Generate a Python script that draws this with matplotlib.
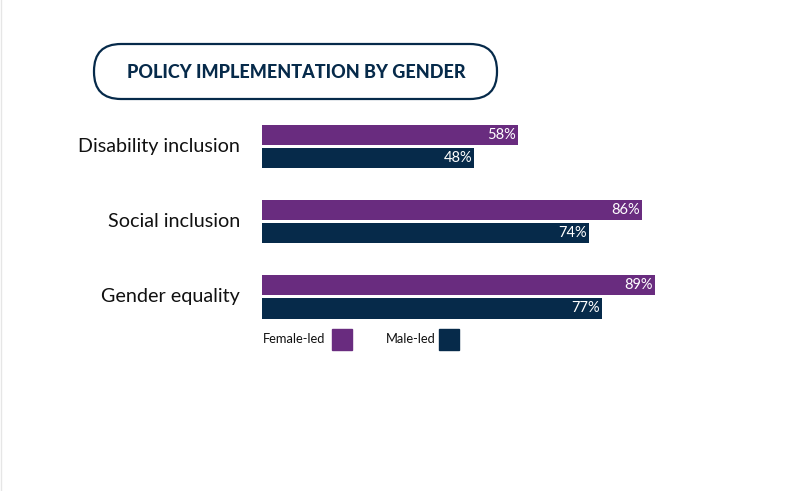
import matplotlib.pyplot as plt
from matplotlib.patches import FancyBboxPatch, Rectangle
from matplotlib.lines import Line2D

categories = ['Disability inclusion', 'Social inclusion', 'Gender equality']
female_led = [58, 86, 89]
male_led = [48, 74, 77]
series_names = ['Female-led', 'Male-led']

PURPLE = '#692C7F'
NAVY = '#062A4A'
W, H = 785, 491

plt.rcParams['font.family'] = ['Lato', 'DejaVu Sans']

fig = plt.figure(figsize=(W / 100, H / 100), dpi=100)
fig.patch.set_facecolor('white')


def fx(px):
    return px / W


def fy(py):
    return 1 - py / H


# axes: 0..100% spans x=262..704 px, groups centred ~75 px apart
ax = fig.add_axes([fx(262), fy(334.6), fx(442), (334.6 - 108.9) / H])
ax.set_xlim(0, 100)
ax.set_ylim(len(categories) - 0.5, -0.5)
ax.axis('off')

bar_h = 0.266
off = 0.153
pos = list(range(len(categories)))
ax.barh([p - off for p in pos], female_led, height=bar_h, color=PURPLE)
ax.barh([p + off for p in pos], male_led, height=bar_h, color=NAVY)

for p, v in zip(pos, female_led):
    ax.text(v - 0.5, p - off, f'{v}%', color='white', fontsize=10.5,
            ha='right', va='center')
for p, v in zip(pos, male_led):
    ax.text(v - 0.5, p + off, f'{v}%', color='white', fontsize=10.5,
            ha='right', va='center')

for p, c in zip(pos, categories):
    ax.text(-5, p, c, color='#111111', fontsize=14.2, ha='right', va='center')

# title pill
pill = FancyBboxPatch((94, H - 99), 403, 55,
                      boxstyle='round,pad=0,rounding_size=27',
                      transform=None, facecolor='white', edgecolor=NAVY,
                      linewidth=1.6)
fig.patches.append(pill)
fig.text(fx(296), fy(72), 'POLICY IMPLEMENTATION BY GENDER', color=NAVY,
         fontsize=13, fontweight='black', ha='center', va='center')

# legend
fig.text(fx(263), fy(339), series_names[0], fontsize=9.3, color='#111111',
         ha='left', va='center')
fig.patches.append(Rectangle((fx(332), fy(350)), fx(20), 21 / H,
                             transform=fig.transFigure, color=PURPLE))
fig.text(fx(386), fy(339), series_names[1], fontsize=9.3, color='#111111',
         ha='left', va='center')
fig.patches.append(Rectangle((fx(439), fy(350)), fx(20), 21 / H,
                             transform=fig.transFigure, color=NAVY))

# faint frame edge on the left
fig.add_artist(Line2D([0.001, 0.001], [0, 1], transform=fig.transFigure,
                      color='#e6e6e6', linewidth=1))

fig.savefig('out.png', dpi=100)
